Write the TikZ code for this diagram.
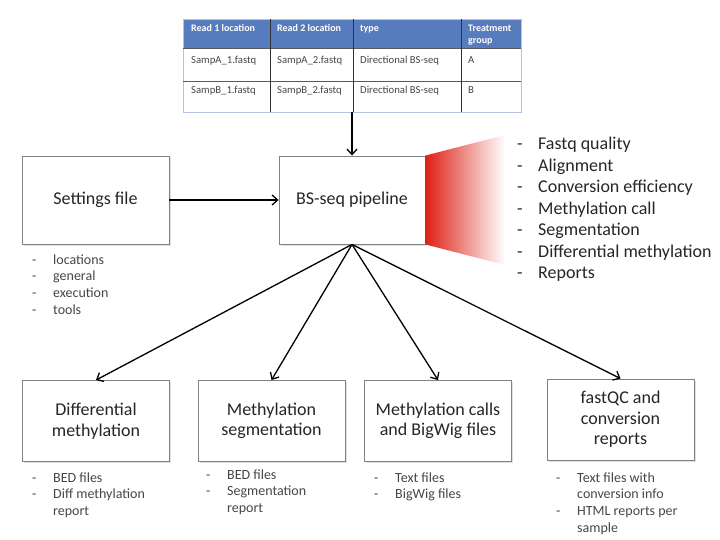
\documentclass[tikz,border=0pt]{standalone}
\usepackage{fontspec}
\setmainfont{Carlito}
\usetikzlibrary{arrows.meta}
\usetikzlibrary{shadows}
\definecolor{tabblue}{RGB}{86,124,190}
\definecolor{txtgray}{RGB}{70,70,70}
\definecolor{boxgray}{RGB}{130,130,130}
\definecolor{fadered}{RGB}{222,32,22}
\newcommand{\dashlist}[1]{\begin{tabular}[t]{@{}p{21pt}@{}l@{}}#1\end{tabular}}

\begin{document}
\begin{tikzpicture}[x=1pt,y=-1pt,
  box/.style={draw=boxgray,fill=white,line width=0.9pt,minimum width=147pt,minimum height=81pt,
    align=center,text=black!85,font=\fontsize{18}{20.5}\selectfont,
    drop shadow={opacity=0.25,shadow xshift=1.5pt,shadow yshift=-1.5pt}},
  arr/.style={-{Straight Barb[length=5.5pt,width=10pt]},line width=1.3pt},
  small/.style={font=\fontsize{14}{16.8}\selectfont,text=txtgray,inner sep=0pt,anchor=base west},
  big/.style={font=\fontsize{18}{21.5}\selectfont,text=black!85,inner sep=0pt,anchor=base west},
  head/.style={font=\fontsize{10}{11.5}\selectfont\bfseries,text=white,inner sep=0pt,anchor=base west},
  cell/.style={font=\fontsize{10.7}{12}\selectfont,text=txtgray,inner sep=0pt,anchor=base west}]
   \useasboundingbox (0,0) rectangle (720,540);

   % sample table
   \node[minimum width=338pt,minimum height=93pt,inner sep=0pt] (tab) at (352,65.5) {};
   \fill[tabblue] (183,19) rectangle (521,48);
   \draw[tabblue!45,line width=0.8pt] (183,19) rectangle (521,112);
   \draw[black!65,line width=0.7pt] (183,48) -- (521,48) (183,81) -- (521,81);
   \draw[black!80,line width=0.9pt] (270,19) -- (270,112) (353,19) -- (353,112) (461,19) -- (461,112);
   \node[head] (h1) at (191,32) {Read 1 location};
   \node[head] (h2) at (277,32) {Read 2 location};
   \node[head] (h3) at (360,32) {type};
   \node[head] (h4) at (468,32) {\begin{tabular}[t]{@{}l@{}}Treatment\\group\end{tabular}};
   \node[cell] (a1) at (191,64) {SampA\_1.fastq};
   \node[cell] (a2) at (277,64) {SampA\_2.fastq};
   \node[cell] (a3) at (360,64) {Directional BS-seq};
   \node[cell] (a4) at (468,64) {A};
   \node[cell] (b1) at (191,94) {SampB\_1.fastq};
   \node[cell] (b2) at (277,94) {SampB\_2.fastq};
   \node[cell] (b3) at (360,94) {Directional BS-seq};
   \node[cell] (b4) at (468,94) {B};

   % pipeline and settings
   \node[box,minimum width=146pt,minimum height=88pt] (pipe) at (352,200) {BS-seq pipeline};
   \node[box,minimum height=88pt] (set) at (95.5,200) {Settings file};
   \shade[left color=fadered,middle color=fadered!40,right color=white] (pipe.north east) -- (505,135) -- (505,265) -- (pipe.south east) -- cycle;
   \node[big] (steps) at (517,150) {\dashlist{- & Fastq quality\\ - & Alignment\\ - & Conversion efficiency\\
      - & Methylation call\\ - & Segmentation\\ - & Differential methylation\\ - & Reports}};
   \node[small] (setlist) at (32,264) {\dashlist{- & locations\\ - & general\\ - & execution\\ - & tools}};

   % outputs
   \node[box] (diff) at (96,421) {Differential\\methylation};
   \node[box] (seg) at (271.5,421) {Methylation\\segmentation};
   \node[box] (calls) at (438,421) {Methylation calls\\and BigWig files};
   \node[box] (qc) at (620.5,419.5) {fastQC and\\conversion\\reports};
   \node[small] (difflist) at (32,482) {\dashlist{- & BED files\\ - & Diff methylation\\ & report}};
   \node[small] (seglist) at (206,479) {\dashlist{- & BED files\\ - & Segmentation\\ & report}};
   \node[small] (callslist) at (374,482) {\dashlist{- & Text files\\ - & BigWig files}};
   \node[small] (qclist) at (556,482) {\dashlist{- & Text files with\\ & conversion info\\ - & HTML reports per\\ & sample}};

   \draw[arr] (tab.south) -- (pipe.north);
   \draw[arr] (set) -- (pipe);
   \draw[arr] (pipe.south) -- (diff.north);
   \draw[arr] (pipe.south) -- (seg.north);
   \draw[arr] (pipe.south) -- (calls.north);
   \draw[arr] (pipe.south) -- (qc.north);
\end{tikzpicture}
\end{document}
